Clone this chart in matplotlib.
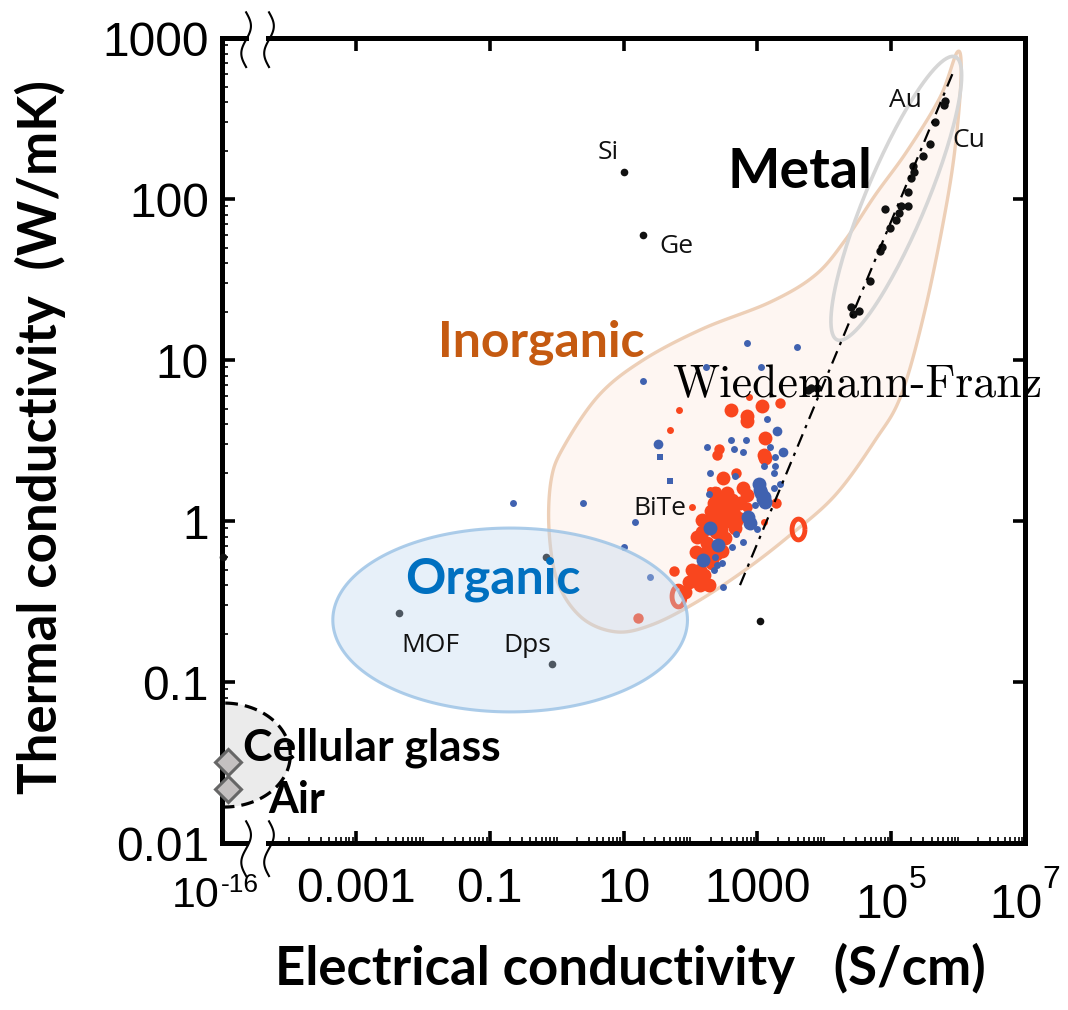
import numpy as np
import matplotlib
matplotlib.use('Agg')
import matplotlib.pyplot as plt
from matplotlib.ticker import FixedLocator, FixedFormatter, NullFormatter
from matplotlib.patches import Rectangle

plt.rcParams['font.family'] = ['Liberation Sans', 'DejaVu Sans']

# ---------------- data ----------------
x_tick_vals = [1e-5, 1e-3, 1e-1, 1e1, 1e3, 1e5, 1e7]
x_tick_labels = ['', '0.001', '0.1', '10', '1000', '', '']
x_pow_ticks = [1e-5, 1e5, 1e7]            # labels drawn as base + exponent
x_pow_exps = ['-16', '5', '7']
y_tick_vals = [0.01, 0.1, 1, 10, 100, 1000]
y_tick_labels = ['0.01', '0.1', '1', '10', '100', '1000']

metal_sigma = [6.4e5, 6.1e5, 4.55e5, 3.83e5, 3.0e5, 2.13e5, 2.2e5, 2.0e5, 1.77e5, 1.77e5,
               1.39e5, 1.32e5, 1.17e5, 9.7e4, 8.1e4, 7.3e4, 6.85e4, 4.85e4, 2.52e4, 3.33e4,
               2.65e4, 6.4e3, 7.7e3, 5.7e3]
metal_kappa = [406, 384, 300, 220, 185, 160, 147, 135, 110, 90.6,
               90.6, 81.8, 74, 66, 86.7, 50.4, 47.9, 31, 21.3, 20.1,
               19.3, 6.7, 6.7, 6.56]

other_sigma = [10, 19.5, 1100, 4.47e-3, 0.85, 0.69, 1.02e-5]
other_kappa = [148, 60, 0.239, 0.268, 0.129, 0.6, 0.6]

insul_sigma = [1.23e-5, 1.23e-5]          # cellular glass, air
insul_kappa = [0.0318, 0.0216]

red_big_sigma = [402, 697, 697, 1191, 1308, 1234, 1308, 305, 357, 697,
                 221, 553, 440, 350, 278, 416, 148, 197, 285, 127,
                 122, 176, 209, 105, 140, 140, 186, 83,
                 320, 380, 250, 330, 450, 160, 240, 600, 520, 300,
                 230, 200, 260, 180, 300, 240, 150, 420, 470, 115, 160, 95, 210]
red_big_kappa = [4.9, 4.5, 4.2, 5.2, 3.3, 2.57, 2.45, 1.84, 1.49, 1.45,
                 1.30, 1.29, 1.26, 1.17, 1.09, 1.06, 1.01, 1.0, 0.88, 0.80,
                 0.64, 0.73, 0.66, 0.50, 0.50, 0.40, 0.40, 0.36,
                 1.2, 1.0, 0.95, 0.78, 1.1, 0.62, 0.85, 1.6, 1.05, 1.4,
                 1.5, 1.15, 1.25, 0.9, 0.65, 0.62, 0.85, 1.35, 0.9, 0.45, 0.46, 0.42, 0.55]
red_med_sigma = [2193, 268, 248, 482, 1910, 697, 494, 262, 56, 16.7]
red_med_kappa = [5.4, 2.8, 2.57, 1.98, 1.30, 1.23, 0.97, 0.83, 0.49, 0.25]
red_small_sigma = [67, 50, 754, 197, 253, 1234, 105]
red_small_kappa = [4.9, 3.7, 5.9, 1.57, 1.57, 0.99, 1.23]
red_ring_sigma = [4027, 64]
red_ring_kappa = [0.89, 0.34]

blue_small_sigma = [697, 3891, 172, 1128, 19.8, 1416, 402, 673, 176, 450,
                    607, 1553, 1845, 1264, 1845, 1783, 197, 466, 2193, 1741,
                    186, 927, 14.9, 984, 482, 619, 416, 234, 248, 221,
                    295, 10, 25, 305, 0.22, 2.5]
blue_small_kappa = [12.8, 12.0, 9.0, 9.1, 7.4, 4.3, 3.2, 3.2, 2.9, 2.8,
                    2.7, 2.9, 2.5, 2.2, 2.2, 2.0, 2.0, 1.9, 1.7, 1.6,
                    1.47, 1.26, 0.99, 0.89, 0.83, 0.74, 0.69, 0.60, 0.53, 0.50,
                    0.55, 0.69, 0.45, 0.39, 1.29, 1.29]
blue_med_sigma = [33, 2405, 1955]
blue_med_kappa = [3.0, 2.7, 3.6]
blue_big_sigma = [1040, 1100, 1150, 1200, 1234, 1308, 736, 780, 197, 262, 153]
blue_big_kappa = [1.7, 1.56, 1.5, 1.38, 1.42, 1.32, 1.06, 0.97, 0.90, 0.71, 0.57]
blue_sq_sigma = [35, 50]
blue_sq_kappa = [2.5, 1.78]

wf_sigma = [550, 8.5e5]          # Wiedemann-Franz guide line
wf_kappa = [0.40, 620]

# Inorganic region outline (sigma, kappa)
inorg_sigma = [9.7e5, 1.11e6, 9.4e5, 6.64e5, 3.22e5, 1.41e5, 5.77e4, 1.46e4, 3090, 658,
               117, 25.9, 7.74, 2.40, 1.05, 0.773, 0.828, 1.29, 4.32, 19.6,
               150, 1552, 7310, 2.05e4, 5.77e4, 1.73e5, 5.40e5]
inorg_kappa = [818, 615, 243, 90.6, 20.7, 6.07, 3.18, 1.45, 0.818, 0.497,
               0.310, 0.226, 0.205, 0.250, 0.412, 0.855, 1.80, 2.92, 6.07, 10.0,
               15.6, 22.9, 33.7, 55.6, 106, 199, 431]

# ellipses: centre (sigma, kappa), semi-axis vectors in decades (dlogx, dlogy)
organic_center = (0.202, 0.243)
organic_axes = [(2.65, 0.0), (0.0, 0.571)]
metal_center = (1.19e5, 101)
metal_axes = [(0.882, 0.879), (-0.42, 0.072)]
glass_center = (1.07e-5, 0.0352)
glass_axes = [(0.99, 0.0), (0.0, 0.323)]

labels_small = ['Si', 'Ge', 'Au', 'Cu', 'MOF', 'Dps', 'BiTe']
labels_small_sigma = [5.9, 61, 1.62e5, 1.42e6, 0.01285, 0.362, 35.2]
labels_small_kappa = [196, 51, 412, 232, 0.1675, 0.1675, 1.205]

# ---------------- helpers ----------------
def ellipse_pts(center, axes_vec, n=200):
    t = np.linspace(0, 2 * np.pi, n)
    cx, cy = np.log10(center[0]), np.log10(center[1])
    (ux, uy), (vx, vy) = axes_vec
    lx = cx + ux * np.cos(t) + vx * np.sin(t)
    ly = cy + uy * np.cos(t) + vy * np.sin(t)
    return 10 ** lx, 10 ** ly


def closed_spline(xs, ys, n=24):
    P = np.column_stack([np.log10(xs), np.log10(ys)])
    N = len(P)
    out = []
    t = np.linspace(0, 1, n, endpoint=False)[:, None]
    for i in range(N):
        p0, p1, p2, p3 = P[(i - 1) % N], P[i], P[(i + 1) % N], P[(i + 2) % N]
        out.append(0.5 * (2 * p1 + (-p0 + p2) * t + (2 * p0 - 5 * p1 + 4 * p2 - p3) * t ** 2
                          + (-p0 + 3 * p1 - 3 * p2 + p3) * t ** 3))
    out = np.vstack(out + [out[0][:1]])
    return 10 ** out[:, 0], 10 ** out[:, 1]

# ---------------- figure ----------------
fig = plt.figure(figsize=(10.68, 10.10), dpi=100)
ax = fig.add_axes([0.2079, 0.1653, 0.7519, 0.7970])
ax.set_xscale('log')
ax.set_yscale('log')
ax.set_xlim(1e-5, 1e7)
ax.set_ylim(0.01, 1000)

RED = '#F9461E'
BLUE = '#4062B0'

# inorganic region
bx, by = closed_spline(inorg_sigma, inorg_kappa)
ax.fill(bx, by, facecolor='#FEF6F2', edgecolor='#EDCFB7', lw=2.4, zorder=1)

# metal ellipse
mx, my = ellipse_pts(metal_center, metal_axes)
ax.plot(mx, my, color='#D6D6D6', lw=2.6, zorder=2)

# cellular glass / air region
gx, gy = ellipse_pts(glass_center, glass_axes)
ax.fill(gx, gy, facecolor='#EBEBEB', edgecolor='black', lw=2.3, ls=(0, (4, 2.2)), zorder=2)

# Wiedemann-Franz
ax.plot(wf_sigma, wf_kappa, color='black', lw=1.6, ls=(0, (6, 3, 1.5, 3)), zorder=4.5)

# thermoelectric points
ax.plot(red_big_sigma, red_big_kappa, 'o', color=RED, ms=10, mew=0, zorder=4)
ax.plot(red_med_sigma, red_med_kappa, 'o', color=RED, ms=7.5, mew=0, zorder=4)
ax.plot(red_small_sigma, red_small_kappa, 'o', color=RED, ms=5, mew=0, zorder=4)
ring = [(0.62 * np.cos(a), np.sin(a)) for a in np.linspace(0, 2 * np.pi, 40)]
ax.plot(red_ring_sigma, red_ring_kappa, ls='none', marker=ring, ms=15, mfc='none',
        mec=RED, mew=3.5, zorder=4)
ax.plot(blue_big_sigma, blue_big_kappa, 'o', color=BLUE, ms=10, mew=0, zorder=4.2)
ax.plot(blue_med_sigma, blue_med_kappa, 'o', color=BLUE, ms=7, mew=0, zorder=4.2)
ax.plot(blue_small_sigma, blue_small_kappa, 'o', color=BLUE, ms=5, mew=0, zorder=4.2)
ax.plot(blue_sq_sigma, blue_sq_kappa, 's', color=BLUE, ms=5, mew=0, zorder=4.2)

# metals and other black points
ax.plot(metal_sigma, metal_kappa, 'o', color='#111111', ms=6, mew=0, zorder=4.3)
ax.plot(other_sigma, other_kappa, 'o', color='#111111', ms=5.5, mew=0, zorder=4.3, clip_on=False)

# insulators
ax.plot(insul_sigma, insul_kappa, 'D', ms=13, mfc='#C4C0C0', mec='#666666', mew=2.2,
        zorder=6, clip_on=False)

# organic ellipse on top
ox, oy = ellipse_pts(organic_center, organic_axes)
ax.fill(ox, oy, facecolor=(0.74, 0.84, 0.94, 0.36), edgecolor=(0.62, 0.77, 0.90, 0.85),
        lw=2.2, zorder=5)

# ---------------- texts ----------------
for s, xv, yv in zip(labels_small, labels_small_sigma, labels_small_kappa):
    ax.text(xv, yv, s, fontsize=19, family='Open Sans', ha='center', va='center',
            color='#111111', zorder=7)

ax.text(4365, 147, 'Metal', fontsize=40, family='Lato', weight='bold', ha='center',
        va='center', color='black', zorder=7)
ax.text(0.586, 12.9, 'Inorganic', fontsize=36, family='Lato', weight='bold', ha='center',
        va='center', color='#C55A11', zorder=7)
ax.text(0.1125, 0.436, 'Organic', fontsize=36, family='Lato', weight='bold', ha='center',
        va='center', color='#0070C0', zorder=7)
ax.text(2.06e-5, 0.0389, 'Cellular glass', fontsize=32, family='Lato', weight='bold',
        ha='left', va='center', color='black', zorder=7)
ax.text(4.88e-5, 0.0185, 'Air', fontsize=31, family='Lato', weight='bold',
        ha='left', va='center', color='black', zorder=7)
ax.text(53, 7.0, 'Wiedemann-Franz', fontsize=33, family='cmr10', ha='left', va='center',
        color='black', zorder=7, clip_on=False)

fig.text(0.590, 0.0416, 'Electrical conductivity   (S/cm)', fontsize=38, family='Lato',
         weight='bold', ha='center', va='center')
fig.text(0.0375, 0.567, 'Thermal conductivity  (W/mK)', fontsize=38, family='Lato',
         weight='bold', ha='center', va='center', rotation=90)

# ---------------- axes styling ----------------
TICK_FS = 34.5
ax.xaxis.set_major_locator(FixedLocator(x_tick_vals))
ax.xaxis.set_major_formatter(FixedFormatter(x_tick_labels))
ax.yaxis.set_major_locator(FixedLocator(y_tick_vals))
ax.yaxis.set_major_formatter(FixedFormatter(y_tick_labels))
minor_x = [m * 10.0 ** e for e in range(-4, 7) for m in range(1, 10)
           if not (m == 1 and e % 2 != 0)]
minor_y = [m * 10.0 ** e for e in range(-2, 3) for m in range(2, 10)]
ax.xaxis.set_minor_locator(FixedLocator(minor_x))
ax.yaxis.set_minor_locator(FixedLocator(minor_y))
ax.xaxis.set_minor_formatter(NullFormatter())
ax.yaxis.set_minor_formatter(NullFormatter())

ax.tick_params(which='major', direction='in', length=9, width=2.6, top=True, right=True,
               labelsize=TICK_FS, colors='black')
ax.tick_params(axis='x', which='major', pad=17.5)
ax.tick_params(axis='y', which='major', pad=9.5)
ax.tick_params(which='minor', direction='in', length=4.5, width=1.2, top=False, right=False)
for sp in ax.spines.values():
    sp.set_linewidth(3.6)

# power-of-ten tick labels (base + raised exponent)
pow_layout = {
    '-16': dict(base_fs=31, exp_fs=19, base_dx=-2.0, base_ha='right', exp_dx=-1.0,
                base_dy=-23.5, exp_dy=-21.5),
    '5': dict(base_fs=TICK_FS, exp_fs=23, base_dx=-25.6, base_ha='left', exp_dx=12.8,
              base_dy=-28.8, exp_dy=-15.8),
    '7': dict(base_fs=TICK_FS, exp_fs=23, base_dx=-25.6, base_ha='left', exp_dx=12.8,
              base_dy=-28.8, exp_dy=-15.8),
}
for xv, ex in zip(x_pow_ticks, x_pow_exps):
    L = pow_layout[ex]
    ax.annotate('10', xy=(xv, 0), xycoords=('data', 'axes fraction'),
                xytext=(L['base_dx'], L['base_dy']), textcoords='offset points',
                ha=L['base_ha'], va='top', fontsize=L['base_fs'], annotation_clip=False)
    ax.annotate(ex, xy=(xv, 0), xycoords=('data', 'axes fraction'),
                xytext=(L['exp_dx'], L['exp_dy']), textcoords='offset points',
                ha='left', va='top', fontsize=L['exp_fs'], annotation_clip=False)

# axis break marks
for ytop, ybot in [(0.027, -0.041), (1.032, 0.964)]:
    yc = 0.0 if ytop < 0.5 else 1.0
    ax.add_patch(Rectangle((0.034, yc - 0.009), 0.021, 0.018, transform=ax.transAxes,
                           facecolor='white', edgecolor='none', clip_on=False, zorder=9))
    for xa in [0.030, 0.0585]:
        tt = np.linspace(0, 1, 80)
        ys = ytop + (ybot - ytop) * tt
        xs = xa + 0.006 * np.sin(2 * np.pi * tt)
        ax.plot(xs, ys, transform=ax.transAxes, color='black', lw=1.5, clip_on=False,
                zorder=10)

fig.savefig('out.png', dpi=100)
